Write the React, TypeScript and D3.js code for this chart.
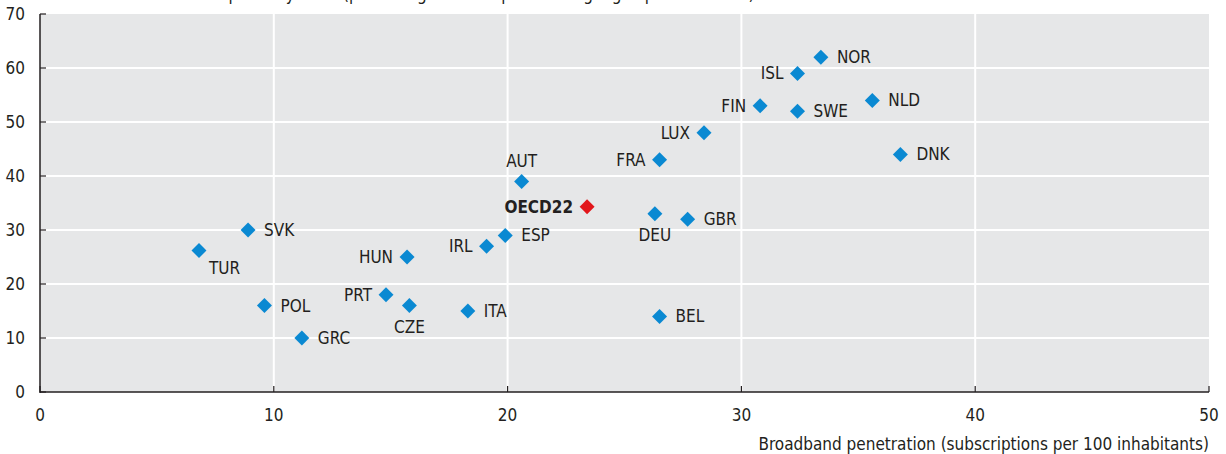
import React from 'react';
import * as d3 from 'd3';

// chart data
const countries = ['NOR', 'ISL', 'NLD', 'FIN', 'SWE', 'LUX', 'DNK', 'FRA', 'AUT', 'OECD22', 'DEU', 'GBR', 'SVK', 'ESP', 'IRL', 'TUR', 'HUN', 'PRT', 'POL', 'CZE', 'ITA', 'BEL', 'GRC'];
const penetration = [33.4, 32.4, 35.6, 30.8, 32.4, 28.4, 36.8, 26.5, 20.6, 23.4, 26.3, 27.7, 8.9, 19.9, 19.1, 6.8, 15.7, 14.8, 9.6, 15.8, 18.3, 26.5, 11.2];
const uptake = [62, 59, 54, 53, 52, 48, 44, 43, 39, 34.3, 33, 32, 30, 29, 27, 26.2, 25, 18, 16, 16, 15, 14, 10];
const xTicks = [0, 10, 20, 30, 40, 50];
const yTicks = [0, 10, 20, 30, 40, 50, 60, 70];
const xTitle = 'Broadband penetration (subscriptions per 100 inhabitants)';
const yTitle = 'E-commerce uptake by firms (percentage of enterprises using high-speed Internet)';

// where each label sits relative to its marker
const labelSide: Record<string, string> = {
  ISL: 'left', FIN: 'left', LUX: 'left', FRA: 'left', OECD22: 'left', IRL: 'left', HUN: 'left', PRT: 'left',
  AUT: 'top', DEU: 'bottom', CZE: 'bottom', TUR: 'bottomright',
};

const W = 1226;
const H = 454;
const FONT = '"Liberation Sans Narrow", "DejaVu Sans Condensed", "Roboto Condensed", sans-serif';
const TEXT = '#231f20';

const App = () => {
  const x = d3.scaleLinear().domain([0, 50]).range([40, 1209]);
  const y = d3.scaleLinear().domain([0, 70]).range([392, 14]);
  const diamond = d3.symbol().type(d3.symbolSquare).size(112)();

  const points = countries.map((c, i) => ({ c, px: x(penetration[i]), py: y(uptake[i]) }));

  const label = (c: string, px: number, py: number) => {
    const side = labelSide[c] || 'right';
    let tx = px + 16, ty = py + 6, anchor = 'start';
    if (side === 'left') { tx = px - 14; anchor = 'end'; }
    if (side === 'top') { tx = px; ty = py - 14; anchor = 'middle'; }
    if (side === 'bottom') { tx = px; ty = py + 27; anchor = 'middle'; }
    if (side === 'bottomright') { tx = px + 10; ty = py + 23; }
    return (
      <text key={'l' + c} x={tx} y={ty} textAnchor={anchor} fontSize={17}
        fontWeight={c === 'OECD22' ? 'bold' : 'normal'} fill={TEXT}>{c}</text>
    );
  };

  return (
    <svg width={W} height={H} style={{ position: 'absolute', left: 0, top: 0, background: '#fff' }}
      fontFamily={FONT}>
      <text x={118} y={0} fontSize={17} fill={TEXT}>{yTitle}</text>
      <rect x={x(0)} y={y(70)} width={x(50) - x(0)} height={y(0) - y(70)} fill="#e6e7e8" />
      {xTicks.filter(t => t > 0 && t < 50).map(t => (
        <line key={'gx' + t} x1={x(t)} x2={x(t)} y1={y(70)} y2={y(0)} stroke="#fff" strokeWidth={2} />
      ))}
      {yTicks.filter(t => t > 0 && t < 70).map(t => (
        <line key={'gy' + t} x1={x(0)} x2={x(50)} y1={y(t)} y2={y(t)} stroke="#fff" strokeWidth={2} />
      ))}
      {/* axes */}
      <line x1={x(0)} x2={x(0)} y1={y(70)} y2={y(0) + 1} stroke={TEXT} strokeWidth={1.5} />
      <line x1={x(0)} x2={x(50)} y1={y(0)} y2={y(0)} stroke={TEXT} strokeWidth={1.5} />
      {yTicks.map(t => (
        <g key={'ty' + t}>
          <line x1={x(0)} x2={x(0) + 6} y1={y(t)} y2={y(t)} stroke={TEXT} strokeWidth={1.2} />
          <text x={25} y={y(t)} dy="0.35em" textAnchor="end" fontSize={17} fill={TEXT}>{t}</text>
        </g>
      ))}
      {xTicks.map(t => (
        <g key={'tx' + t}>
          <line x1={x(t)} x2={x(t)} y1={y(0)} y2={y(0) - 6} stroke={TEXT} strokeWidth={1.2} />
          <text x={x(t)} y={421} textAnchor="middle" fontSize={17} fill={TEXT}>{t}</text>
        </g>
      ))}
      <text x={x(50)} y={450} textAnchor="end" fontSize={17} fill={TEXT}>{xTitle}</text>
      {points.map(p => (
        <path key={p.c} d={diamond ?? ''} transform={`translate(${p.px},${p.py}) rotate(45)`}
          fill={p.c === 'OECD22' ? '#e2161b' : '#0a89d2'} />
      ))}
      {points.map(p => label(p.c, p.px, p.py))}
    </svg>
  );
};

export default App;
